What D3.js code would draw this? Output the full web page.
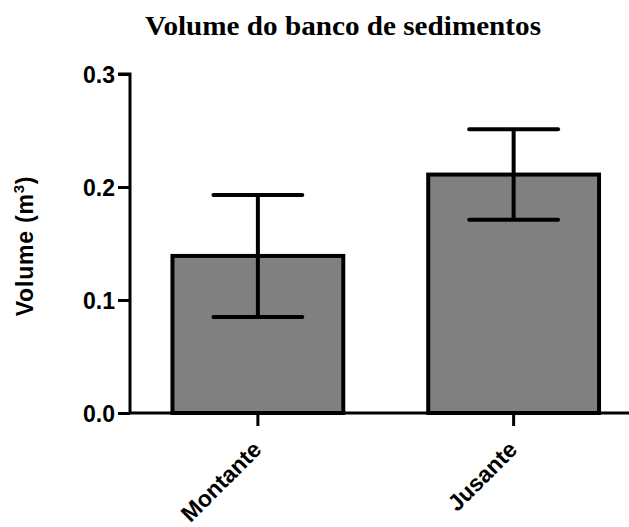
<!DOCTYPE html>
<html>
<head>
<meta charset="utf-8">
<script src="https://cdn.jsdelivr.net/npm/d3@7"></script>
<style>
  html, body { margin: 0; padding: 0; background: #fff; }
  svg { display: block; }
</style>
</head>
<body>
<svg id="chart" width="629" height="527"></svg>
<script>
// Sediment bank volume, mean ± SD per site
const categories = ["Montante", "Jusante"];
const means = [0.139, 0.211];
const errors = [0.054, 0.040];
const yTicks = [0.0, 0.1, 0.2, 0.3];

const svg = d3.select("#chart");
const x0 = 130, yBase = 413, yTop = 74;
const sans = "Liberation Sans, Arial, sans-serif";

const x = d3.scaleBand()
  .domain(categories)
  .range([x0, 641.5])
  .paddingInner(0.332)
  .paddingOuter(0.166);

const y = d3.scaleLinear().domain([0, 0.3]).range([yBase, yTop]);

// Title
svg.append("text")
  .attr("x", 343).attr("y", 35)
  .attr("text-anchor", "middle")
  .attr("font-family", "Liberation Serif, Times New Roman, serif")
  .attr("font-weight", "bold")
  .attr("font-size", 28)
  .attr("textLength", 396)
  .attr("lengthAdjust", "spacingAndGlyphs")
  .text("Volume do banco de sedimentos");

// Bars
svg.append("g").selectAll("rect")
  .data(categories)
  .join("rect")
  .attr("x", d => x(d))
  .attr("y", (d, i) => y(means[i]))
  .attr("width", x.bandwidth())
  .attr("height", (d, i) => yBase - y(means[i]))
  .attr("fill", "#808080")
  .attr("stroke", "#000")
  .attr("stroke-width", 4);

// Error bars
const eg = svg.append("g").attr("stroke", "#000").attr("stroke-width", 4).attr("stroke-linecap", "round");
categories.forEach((c, i) => {
  const cx = x(c) + x.bandwidth() / 2;
  const half = x.bandwidth() * 0.26;
  const hi = y(means[i] + errors[i]), lo = y(means[i] - errors[i]);
  eg.append("line").attr("x1", cx).attr("x2", cx).attr("y1", hi).attr("y2", lo).attr("stroke-linecap", "butt");
  eg.append("line").attr("x1", cx - half).attr("x2", cx + half).attr("y1", hi).attr("y2", hi);
  eg.append("line").attr("x1", cx - half).attr("x2", cx + half).attr("y1", lo).attr("y2", lo);
});

// Y axis
const yAxis = svg.append("g")
  .attr("transform", `translate(${x0},0)`)
  .call(d3.axisLeft(y).tickValues(yTicks).tickFormat(d3.format(".1f")).tickSize(12).tickPadding(3));
yAxis.select(".domain").attr("stroke-width", 3).attr("d", `M-12,${yTop}H0V${yBase}`);
yAxis.selectAll(".tick line").attr("stroke-width", 3);
yAxis.selectAll(".tick text")
  .attr("font-family", sans)
  .attr("font-weight", "bold")
  .attr("font-size", 23)
  .attr("dy", "0.36em")
  .attr("fill", "#000");

// X axis
const xAxis = svg.append("g")
  .attr("transform", `translate(0,${yBase})`)
  .call(d3.axisBottom(x).tickSize(13).tickSizeOuter(0));
xAxis.select(".domain").attr("stroke-width", 3).attr("d", `M${x0},0H629`);
xAxis.selectAll(".tick line").attr("stroke-width", 3);
xAxis.selectAll(".tick text")
  .attr("font-family", sans)
  .attr("font-weight", "bold")
  .attr("font-size", 23)
  .attr("fill", "#000")
  .attr("text-anchor", "end")
  .attr("x", 0).attr("y", 0).attr("dy", 0)
  .attr("transform", "translate(5,38) rotate(-45)");

// Y axis title
const yt = svg.append("text")
  .attr("transform", "translate(33,246) rotate(-90)")
  .attr("text-anchor", "middle")
  .attr("font-family", sans)
  .attr("font-weight", "bold")
  .attr("font-size", 23)
  .attr("letter-spacing", 0.8);
yt.append("tspan").text("Volume (m");
yt.append("tspan").attr("font-size", 15).attr("dy", -9).text("3");
yt.append("tspan").attr("dy", 9).text(")");
</script>
</body>
</html>
